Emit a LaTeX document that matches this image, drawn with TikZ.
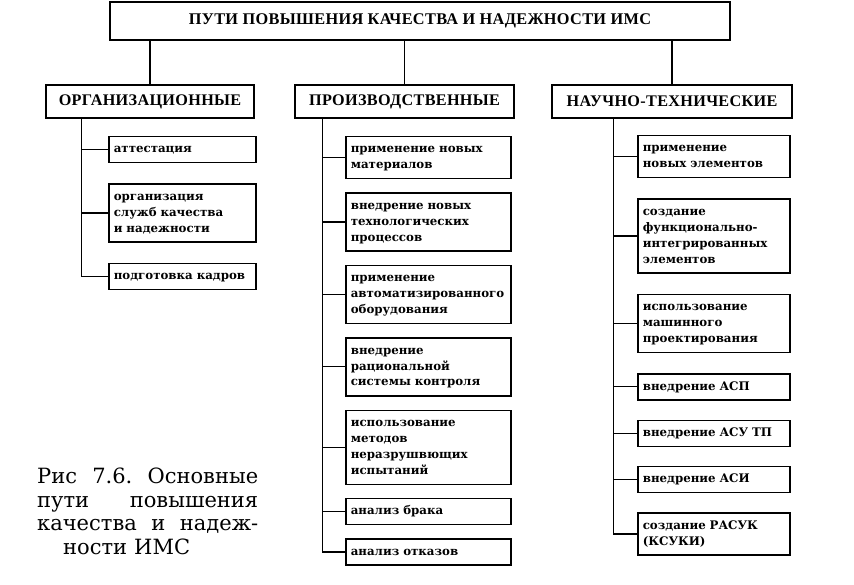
\documentclass[tikz,border=0pt]{standalone}
\usepackage{fontspec}
\setmainfont{Liberation Serif}
\newfontfamily\itemfont{DejaVu Serif}
\newfontfamily\capsfont[LetterSpace=2]{Liberation Serif}
\usepackage{tikz}
\usetikzlibrary{positioning}

\tikzset{
  topbox/.style={draw,line width=1.8pt,minimum width=620pt,minimum height=38pt,
    font=\capsfont\bfseries\fontsize{16.3}{18}\selectfont},
  headbox/.style={draw,line width=1.8pt,minimum height=33pt,inner xsep=0pt,
    font=\capsfont\bfseries\fontsize{16.2}{18}\selectfont},
  itembox/.style={draw,line width=1.4pt,anchor=north west,align=left,
    inner xsep=5pt,inner ysep=5pt,text width=#1,
    font=\itemfont\bfseries\fontsize{11.8}{16}\selectfont,
    execute at begin node=\strut,execute at end node=\strut},
  orgitem/.style={itembox=137pt},
  proitem/.style={itembox=155pt},
  nauitem/.style={itembox=142pt},
  branch/.style={line width=1.1pt}
}

\begin{document}
\begin{tikzpicture}[x=1pt,y=-1pt]
\useasboundingbox (0,0) rectangle (854,585);

% top and second level
\node (top) [topbox] at (420,21) {ПУТИ ПОВЫШЕНИЯ КАЧЕСТВА И НАДЕЖНОСТИ ИМС};
\node (org) [headbox,minimum width=208pt] at (150,101.5) {ОРГАНИЗАЦИОННЫЕ};
\node (pro) [headbox,minimum width=219pt] at (404.5,101.5) {ПРОИЗВОДСТВЕННЫЕ};
\node (nau) [headbox,minimum width=240pt] at (672,101.5) {НАУЧНО-ТЕХНИЧЕСКИЕ};

\foreach \g in {org,pro,nau}
  \draw [branch] (\g.north |- top.south) -- (\g.north);

% organizational
\node (att) [orgitem,below right=17pt and 63pt of org.south west] {аттестация};
\node (slu) [orgitem,below=20pt of att.south west,anchor=north west] {организация\\ служб качества\\ и надежности};
\node (kad) [orgitem,below=20pt of slu.south west,anchor=north west] {подготовка кадров};

% production
\node (mat) [proitem,below right=17pt and 51pt of pro.south west] {применение новых\\ материалов};
\node (teh) [proitem,below=13pt of mat.south west,anchor=north west] {внедрение новых\\ технологических\\ процессов};
\node (avt) [proitem,below=13pt of teh.south west,anchor=north west] {применение\\ автоматизированного\\ оборудования};
\node (kon) [proitem,below=13pt of avt.south west,anchor=north west] {внедрение\\ рациональной\\ системы контроля};
\node (ner) [proitem,below=13pt of kon.south west,anchor=north west] {использование\\ методов\\ неразрушвющих\\ испытаний};
\node (bra) [proitem,below=13pt of ner.south west,anchor=north west] {анализ брака};
\node (otk) [proitem,below=13pt of bra.south west,anchor=north west] {анализ отказов};

% scientific
\node (ele) [nauitem,below right=16pt and 86pt of nau.south west] {применение\\ новых элементов};
\node (fun) [nauitem,below=20pt of ele.south west,anchor=north west] {создание\\ функционально-\\ интегрированных\\ элементов};
\node (mash) [nauitem,below=20pt of fun.south west,anchor=north west] {использование\\ машинного\\ проектирования};
\node (asp) [nauitem,below=20pt of mash.south west,anchor=north west] {внедрение АСП};
\node (asutp) [nauitem,below=19pt of asp.south west,anchor=north west] {внедрение АСУ ТП};
\node (asi) [nauitem,below=19pt of asutp.south west,anchor=north west] {внедрение АСИ};
\node (rasuk) [nauitem,below=19pt of asi.south west,anchor=north west] {создание РАСУК\\ (КСУКИ)};

% spines
\coordinate (orgtop) at ([xshift=36pt]org.south west);
\coordinate (protop) at ([xshift=28pt]pro.south west);
\coordinate (nautop) at ([xshift=62pt]nau.south west);
\foreach \i in {att,slu,kad}
  \draw [branch] (orgtop) |- (\i.west);
\foreach \i in {mat,teh,avt,kon,ner,bra,otk}
  \draw [branch] (protop) |- (\i.west);
\foreach \i in {ele,fun,mash,asp,asutp,asi,rasuk}
  \draw [branch] (nautop) |- (\i.west);

% caption
\node (cap) [anchor=north west,inner sep=0pt,text width=221pt,align=left,
  font=\itemfont\fontsize{21}{23.5}\selectfont] at (37,468)
  {\makebox[221pt]{Рис\hfill7.6.\hfill Основные}\\
   \makebox[221pt]{пути\hfill повышения}\\
   \makebox[221pt]{качества\hfill и\hfill надеж-}\\
   \hspace*{26pt}ности ИМС};
\end{tikzpicture}
\end{document}
